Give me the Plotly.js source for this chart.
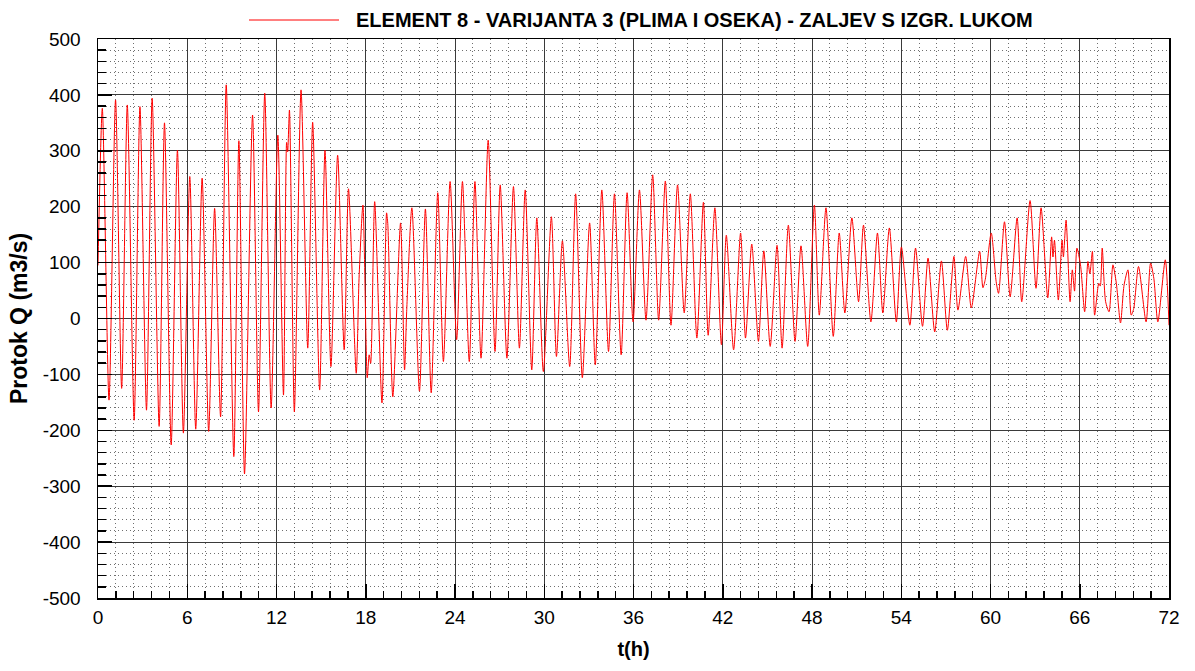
<!DOCTYPE html>
<html>
<head>
<meta charset="utf-8">
<script src="https://cdn.plot.ly/plotly-3.0.1.min.js"></script>
<style>
  html, body { margin: 0; padding: 0; background: #ffffff; }
  #chart { width: 1195px; height: 671px; }
</style>
</head>
<body>
<div id="chart"></div>
<script>
// Time (h) of read-off turning points / shoulders
const timeH = [
  0, 0.29, 0.74, 1.18, 1.59, 1.97, 2.43, 2.82, 3.26, 3.64,
  4.11, 4.47, 4.92, 5.34, 5.74, 6.17, 6.57, 7.0, 7.44, 7.84,
  8.24, 8.62, 9.13, 9.47, 9.85, 10.39, 10.79, 11.21, 11.64, 12.09,
  12.47, 12.68, 12.75, 12.87, 13.2, 13.65, 14.1, 14.43, 14.9, 15.26,
  15.66, 16.11, 16.55, 16.84, 17.36, 17.55, 17.81, 18.1, 18.23, 18.33,
  18.6, 19.09, 19.4, 19.48, 19.82, 20.34, 20.61, 20.75, 21.1, 21.61,
  22.01, 22.4, 22.84, 23.22, 23.67, 24.11, 24.5, 24.96, 25.34, 25.75,
  26.23, 26.69, 27.04, 27.49, 27.93, 28.33, 28.72, 29.16, 29.5, 29.94,
  30.48, 30.82, 31.22, 31.71, 32.11, 32.56, 33.05, 33.43, 33.87, 34.32,
  34.72, 35.17, 35.57, 35.97, 36.4, 36.84, 37.29, 37.69, 38.14, 38.52,
  38.96, 39.41, 39.82, 40.26, 40.7, 41.02, 41.47, 41.91, 42.24, 42.73,
  43.2, 43.53, 43.95, 44.4, 44.76, 45.19, 45.65, 45.99, 46.41, 46.86,
  47.26, 47.71, 48.16, 48.49, 48.94, 49.43, 49.83, 50.21, 50.68, 51.13,
  51.46, 51.96, 52.4, 52.76, 53.2, 53.67, 54.01, 54.58, 54.96, 55.43,
  55.8, 56.25, 56.7, 57.1, 57.54, 57.81, 58.33, 58.71, 59.27, 59.49,
  59.65, 60.05, 60.38, 60.54, 60.94, 61.32, 61.79, 62.1, 62.66, 63.06,
  63.4, 63.85, 64.11, 64.2, 64.3, 64.56, 64.81, 64.9, 65.08, 65.35,
  65.5, 65.65, 65.81, 66.05, 66.33, 66.55, 66.68, 66.85, 67.0, 67.28,
  67.38, 67.51, 67.74, 67.97, 68.23, 68.46, 68.74, 68.98, 69.24, 69.46,
  69.63, 69.95, 70.46, 70.76, 70.98, 71.25, 71.75, 72.0
];
// Discharge Q (m3/s) at those times
const flowQ = [
  95, 376, -146, 391, -125, 382, -182, 379, -164, 394,
  -193, 350, -226, 301, -205, 254, -198, 251, -202, 197,
  -176, 418, -247, 318, -278, 364, -167, 403, -160, 328,
  -137, 315, 298, 373, -167, 409, -53, 351, -128, 301,
  -86, 292, -56, 232, -98, 72, 203, -106, -65, -80,
  209, -151, 189, 170, -140, 171, -92, 12, 198, -130,
  196, -133, 225, -77, 245, -38, 245, -77, 245, -71,
  319, -59, 239, -71, 236, -53, 230, -92, 180, -95,
  182, -68, 139, -86, 223, -106, 171, -83, 230, -59,
  223, -65, 225, -6, 230, -3, 257, -3, 246, -12,
  239, 10, 223, -35, 208, -30, 198, -47, 149, -56,
  153, -35, 133, -41, 121, -50, 131, -53, 167, -41,
  130, -50, 203, 6, 198, -32, 153, 10, 180, 30,
  167, -6, 153, 10, 162, -6, 128, -12, 126, -14,
  108, -24, 103, -21, 111, 15, 111, 19, 120, 55,
  70, 153, 66, 45, 173, 39, 180, 30, 211, 54,
  198, 37, 146, 110, 140, 33, 140, 110, 176, 30,
  87, 49, 126, 96, 12, 102, 80, 120, 6, 63,
  58, 126, 30, 12, 96, 63, -8, 60, 87, 6,
  18, 93, -6, 99, 72, -6, 105, -12
];
// Axis tick values and labels (hyphen minus as in the original)
const xTickVals = [0, 6, 12, 18, 24, 30, 36, 42, 48, 54, 60, 66, 72];
const xTickText = ['0', '6', '12', '18', '24', '30', '36', '42', '48', '54', '60', '66', '72'];
const yTickVals = [-500, -400, -300, -200, -100, 0, 100, 200, 300, 400, 500];
const yTickText = ['-500', '-400', '-300', '-200', '-100', '0', '100', '200', '300', '400', '500'];

const seriesName = 'ELEMENT 8 - VARIJANTA 3 (PLIMA I OSEKA) - ZALJEV S IZGR. LUKOM';
const xTitle = 't(h)';
const yTitle = 'Protok Q (m3/s)';

const FONT = 'Liberation Sans, Arial, Helvetica, sans-serif';
const W = 1195, H = 671;
const M = { l: 98, r: 26, t: 39, b: 73 };
const plotW = W - M.l - M.r, plotH = H - M.t - M.b;
const px2x = p => (p - M.l) / plotW;
const py2y = p => (H - M.b - p) / plotH;

const trace = {
  x: timeH, y: flowQ, type: 'scatter', mode: 'lines',
  name: seriesName, showlegend: false,
  line: { color: '#ff0000', width: 1, shape: 'spline', smoothing: 0.7 }
};

const axisCommon = {
  showline: true, linecolor: '#000', linewidth: 1.5, mirror: true,
  ticks: 'inside', ticklen: 14, tickcolor: '#000', tickwidth: 1.5,
  showgrid: true, gridcolor: '#3a3a3a', gridwidth: 1,
  zeroline: false,
  tickmode: 'array',
  tickfont: { family: FONT, size: 19, color: '#000' }
};
const minorCommon = {
  ticks: 'inside', tickcolor: '#000',
  showgrid: true, gridcolor: '#6f6f6f', griddash: '1px,3px', gridwidth: 1
};

const layout = {
  width: W, height: H,
  margin: M,
  paper_bgcolor: '#fff', plot_bgcolor: '#fff',
  font: { family: FONT, color: '#000' },
  xaxis: Object.assign({}, axisCommon, {
    range: [0, 72], tickvals: xTickVals, ticktext: xTickText,
    ticklabelstandoff: 2,
    minor: Object.assign({}, minorCommon, { tick0: 0, dtick: 1.2, ticklen: 7 }),
    title: { text: xTitle, font: { family: FONT, size: 20, weight: 700, color: '#000' }, standoff: 14 }
  }),
  yaxis: Object.assign({}, axisCommon, {
    range: [-500, 500], tickvals: yTickVals, ticktext: yTickText,
    ticklabelstandoff: 12,
    minor: Object.assign({}, minorCommon, { tick0: 0, dtick: 20, ticklen: 8 }),
    title: { text: yTitle, font: { family: FONT, size: 23, weight: 700, color: '#000' }, standoff: 8 }
  }),
  shapes: [{
    type: 'line', xref: 'paper', yref: 'paper',
    x0: px2x(249), x1: px2x(339), y0: py2y(20), y1: py2y(20),
    line: { color: '#ff0000', width: 1 }
  }],
  annotations: [{
    xref: 'paper', yref: 'paper', x: px2x(354), y: py2y(20),
    xanchor: 'left', yanchor: 'middle', showarrow: false,
    text: seriesName,
    font: { family: FONT, size: 20, weight: 700, color: '#000' }
  }]
};

Plotly.newPlot('chart', [trace], layout, { staticPlot: true, displayModeBar: false });
</script>
</body>
</html>
